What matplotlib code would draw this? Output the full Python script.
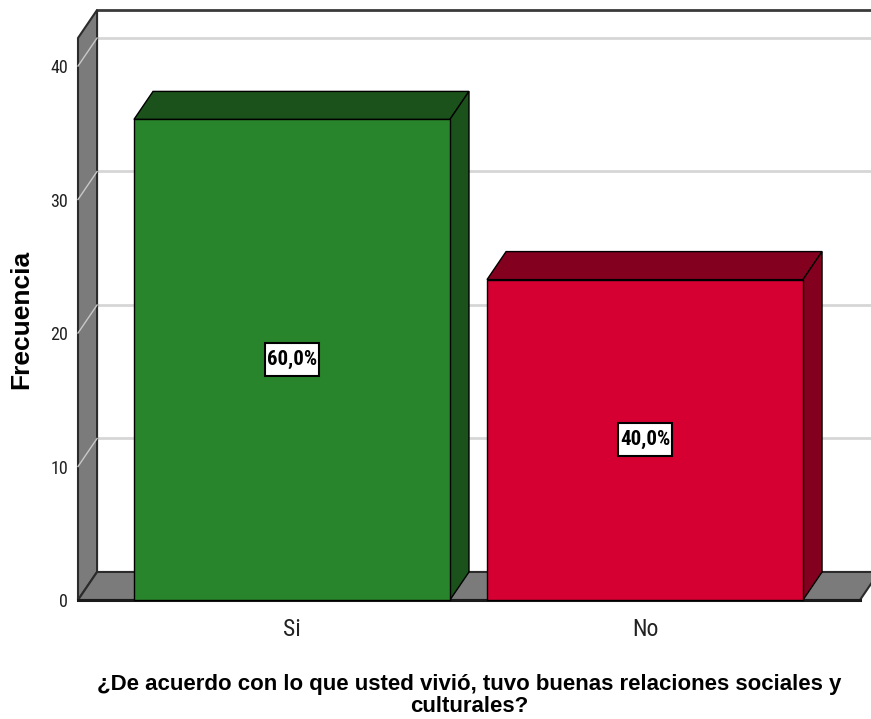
import numpy as np
import matplotlib.pyplot as plt
from matplotlib.patches import Polygon
from matplotlib.path import Path

# frecuencias por respuesta
categorias = ['Si', 'No']
frecuencias = [36, 24]
porcentajes = ['60,0%', '40,0%']
yticks = [0, 10, 20, 30, 40]

color_frente = ['#29852b', '#d50031']
color_sombra = ['#1b521b', '#84001f']

ymax = 42.1
xmin, xmax = -0.606, 1.609
ancho = 0.895
dx, dy = 0.054, 2.1          # profundidad del efecto 3D (en unidades de datos)
gris = '#7b7b7b'
borde = '#2b2b2b'
angosta = 'Roboto Condensed'

fig = plt.figure(figsize=(8.71, 7.19), dpi=100)
ax = fig.add_axes([78 / 871, 119 / 719, 782 / 871, 562 / 719])
ax.set_xlim(xmin, xmax)
ax.set_ylim(0, ymax)
for s in ax.spines.values():
    s.set_visible(False)

def cara(puntos, color, z, lw=1.0, ec='black'):
    p = Polygon(puntos, closed=True, facecolor=color, edgecolor=ec,
                linewidth=lw, zorder=z, clip_on=False)
    ax.add_patch(p)

# caja de etiqueta: poco margen a los lados, mas arriba y abajo
def caja(x0, y0, width, height, mutation_size):
    px, py = 0.1 * mutation_size, 0.33 * mutation_size
    x0, y0 = x0 - px, y0 - py
    x1, y1 = x0 + width + 2 * px, y0 + height + 2 * py
    return Path([(x0, y0), (x1, y0), (x1, y1), (x0, y1), (x0, y0)],
                closed=True)

# pared del fondo: cuadricula y marco
for v in yticks[1:]:
    ax.plot([xmin + dx, xmax + dx], [v + dy, v + dy], color='#d6d6d6',
            lw=2, zorder=1, clip_on=False)
ax.plot([xmin + dx, xmax + dx], [ymax + dy, ymax + dy], color='#3a3a3a',
        lw=2, zorder=2, clip_on=False)

# pared izquierda
cara([(xmin, 0), (xmin, ymax), (xmin + dx, ymax + dy), (xmin + dx, dy)],
     gris, 3, lw=1.5, ec=borde)
for v in yticks[1:]:
    ax.plot([xmin, xmin + dx], [v, v + dy], color='#c8c8c8', lw=1,
            zorder=3.5, clip_on=False)

# suelo
cara([(xmin, 0), (xmax, 0), (xmax + dx, dy), (xmin + dx, dy)],
     gris, 4, lw=1.5, ec=borde)
ax.plot([xmin, xmax], [0, 0], color='#1a1a1a', lw=2.2, zorder=4.5,
        clip_on=False)

# barras
for i, (cat, f) in enumerate(zip(categorias, frecuencias)):
    x0, x1 = i - ancho / 2, i + ancho / 2
    cara([(x0, f), (x1, f), (x1 + dx, f + dy), (x0 + dx, f + dy)],
         color_sombra[i], 5)
    cara([(x1, 0), (x1 + dx, dy), (x1 + dx, f + dy), (x1, f)],
         color_sombra[i], 5)
    cara([(x0, 0), (x1, 0), (x1, f), (x0, f)], color_frente[i], 6)
    ax.text(i, f / 2, porcentajes[i], ha='center', va='center',
            fontsize=15, fontweight='bold', family=angosta, zorder=8,
            bbox=dict(boxstyle=caja, facecolor='white',
                      edgecolor='black', linewidth=1.5))

ax.set_xticks(range(len(categorias)))
ax.set_xticklabels(categorias)
ax.set_yticks(yticks)
ax.tick_params(axis='both', length=0, colors='#222222')
ax.tick_params(axis='x', pad=13, labelsize=17)
ax.tick_params(axis='y', pad=7, labelsize=13)
for t in ax.get_xticklabels() + ax.get_yticklabels():
    t.set_family(angosta)

ax.set_ylabel('Frecuencia', fontsize=19, fontweight='bold',
              family='Liberation Sans')
ax.yaxis.set_label_coords(-0.057, 0.5)
xl = ax.set_xlabel('¿De acuerdo con lo que usted vivió, tuvo buenas relaciones sociales y\nculturales?',
                   fontsize=16, fontweight='bold', family='Liberation Sans')
xl.set_linespacing(1.05)
ax.xaxis.set_label_coords(0.5, -0.132)

fig.savefig('out.png', dpi=100)
